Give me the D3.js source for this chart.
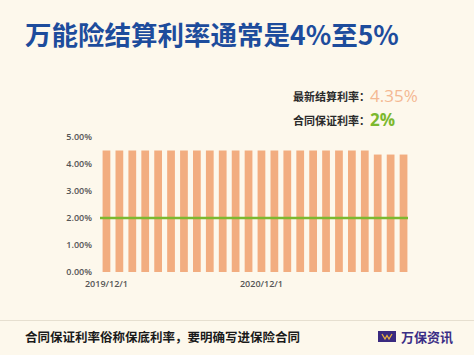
<!DOCTYPE html>
<html><head><meta charset="utf-8">
<script src="https://cdn.jsdelivr.net/npm/d3@7"></script>
<style>body{margin:0;background:#fdf8ec;}svg{display:block;}</style>
</head><body>
<script>
const months = ["2019/12/1","2020/1/1","2020/2/1","2020/3/1","2020/4/1","2020/5/1","2020/6/1","2020/7/1","2020/8/1","2020/9/1","2020/10/1","2020/11/1","2020/12/1","2021/1/1","2021/2/1","2021/3/1","2021/4/1","2021/5/1","2021/6/1","2021/7/1","2021/8/1","2021/9/1","2021/10/1","2021/11/1"];
const settleRate = [4.5,4.5,4.5,4.5,4.5,4.5,4.5,4.5,4.5,4.5,4.5,4.5,4.5,4.5,4.5,4.5,4.5,4.5,4.5,4.5,4.5,4.35,4.35,4.35];
const guaranteedRate = 2;
const yTicks = [0,1,2,3,4,5];
const xTickLabels = ["2019/12/1","2020/12/1"];

const W=474,H=355;
const font = "'Noto Sans CJK SC','Noto Sans',sans-serif";
const svg = d3.select("body").append("svg").attr("width",W).attr("height",H).style("font-family",font);
svg.append("rect").attr("width",W).attr("height",H).attr("fill","#fdf8ec");

svg.append("text").attr("x",25).attr("y",45).attr("font-size",26.5).attr("font-weight",700)
  .attr("fill","#1d4c9c").text("万能险结算利率通常是4%至5%");

// legend
const lg = svg.append("g");
lg.append("text").attr("x",293).attr("y",101).attr("font-size",11).attr("font-weight",700).attr("fill","#2a2a2a").text("最新结算利率：");
lg.append("text").attr("x",370).attr("y",102).attr("font-size",17).attr("font-family","'Open Sans',sans-serif").attr("fill","#f4b893").text("4.35%");
lg.append("text").attr("x",293).attr("y",125).attr("font-size",11).attr("font-weight",700).attr("fill","#2a2a2a").text("合同保证利率：");
lg.append("text").attr("x",370).attr("y",126).attr("font-size",17).attr("font-weight",700).attr("font-family","'Open Sans',sans-serif").attr("fill","#7cb82f").text("2%");

const x = d3.scaleBand().domain(months).range([100,410]).paddingInner(0.4).paddingOuter(0.2);
const y = d3.scaleLinear().domain([0,5]).range([272,137]);

const yAxis = svg.append("g").attr("transform","translate(92,0)")
  .call(d3.axisLeft(y).tickValues(yTicks).tickSize(0).tickPadding(0).tickFormat(d=>d.toFixed(2)+"%"));
yAxis.select(".domain").remove();
yAxis.selectAll("text").attr("font-size",9).attr("font-weight",600).attr("fill","#555").attr("font-family","'Open Sans',sans-serif");

svg.append("g").selectAll("rect").data(months).join("rect")
  .attr("x",d=>x(d)).attr("width",x.bandwidth())
  .attr("y",(d,i)=>y(settleRate[i])).attr("height",(d,i)=>y(0)-y(settleRate[i]))
  .attr("fill","#f2ad80");

svg.append("line").attr("x1",100).attr("x2",408).attr("y1",y(guaranteedRate)).attr("y2",y(guaranteedRate))
  .attr("stroke","#7cb82f").attr("stroke-width",2.5);

const xAxis = svg.append("g").attr("transform","translate(0,281)")
  .call(d3.axisBottom(x).tickValues(xTickLabels).tickSize(0).tickPadding(0));
xAxis.select(".domain").remove();
xAxis.selectAll("text").attr("font-size",9).attr("font-weight",600).attr("fill","#555").attr("font-family","'Open Sans',sans-serif").attr("dy","0.71em");

// footer
svg.append("line").attr("x1",0).attr("x2",W).attr("y1",320.5).attr("y2",320.5).attr("stroke","#e6dfd0").attr("stroke-width",1);
svg.append("text").attr("x",25).attr("y",342).attr("font-size",12.5).attr("font-weight",700).attr("fill","#1a1a1a").text("合同保证利率俗称保底利率，要明确写进保险合同");
svg.append("rect").attr("x",378).attr("y",331).attr("width",18).attr("height",11).attr("fill","#3a2a80");
svg.append("path").attr("d","M382,334 L385,339 L387,335.5 L389,339 L392,334").attr("fill","none").attr("stroke","#e8b040").attr("stroke-width",1.3);
svg.append("text").attr("x",401).attr("y",342).attr("font-size",13).attr("font-weight",700).attr("fill","#3b2e86").text("万保资讯");
</script>
</body></html>
